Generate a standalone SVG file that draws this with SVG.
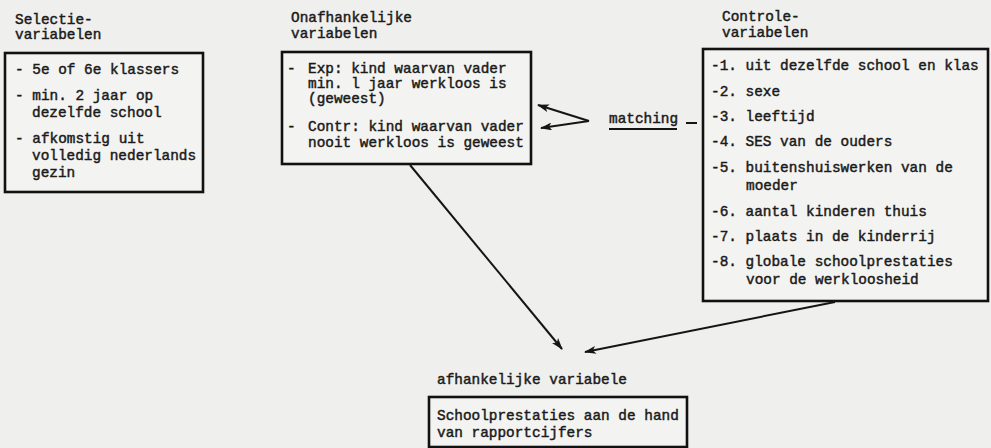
<svg xmlns="http://www.w3.org/2000/svg" width="991" height="448" viewBox="0 0 991 448">
<style>
text{font-family:"Liberation Mono","DejaVu Sans Mono",monospace;font-size:14.4px;fill:#1a1a1a;stroke:#1a1a1a;stroke-width:0.45}
.box{fill:#f3f3f1;stroke:#111;stroke-width:2.6}
.con{stroke:#151515;stroke-width:2;fill:none}
</style>
<defs>
<marker id="ah" viewBox="0 0 12 8" refX="11" refY="4" markerWidth="12" markerHeight="8" markerUnits="userSpaceOnUse" orient="auto">
<path d="M0,0 L12,4 L0,8 L3,4 Z" fill="#151515"/>
</marker>
</defs>
<rect width="991" height="448" fill="#efefed"/>

<g id="selectie">
<text x="15" y="24">Selectie-</text>
<text x="15" y="39">variabelen</text>
<rect class="box" x="5" y="53" width="198" height="139"/>
<text x="15" y="74">- 5e of 6e klassers</text>
<text x="15" y="100">- min. 2 jaar op</text>
<text x="32" y="117">dezelfde school</text>
<text x="15" y="143">- afkomstig uit</text>
<text x="32" y="160">volledig nederlands</text>
<text x="32" y="177">gezin</text>
</g>

<g id="onafhankelijk">
<text x="291" y="22">Onafhankelijke</text>
<text x="291" y="38">variabelen</text>
<rect class="box" x="282" y="52" width="249" height="112"/>
<text x="287" y="73">- <tspan x="308">Exp: kind waarvan vader</tspan></text>
<text x="308" y="88">min. l jaar werkloos is</text>
<text x="308" y="103">(geweest)</text>
<text x="287" y="131">- <tspan x="308">Contr: kind waarvan vader</tspan></text>
<text x="308" y="147">nooit werkloos is geweest</text>
</g>

<g id="controle">
<text x="722" y="21">Controle-</text>
<text x="722" y="37">variabelen</text>
<rect class="box" x="703" y="49" width="285" height="252"/>
<text x="711" y="70">-1. uit dezelfde school en klas</text>
<text x="711" y="96">-2. sexe</text>
<text x="711" y="121">-3. leeftijd</text>
<text x="711" y="146">-4. SES van de ouders</text>
<text x="711" y="172">-5. buitenshuiswerken van de</text>
<text x="746" y="190">moeder</text>
<text x="711" y="216">-6. aantal kinderen thuis</text>
<text x="711" y="241">-7. plaats in de kinderrij</text>
<text x="711" y="266">-8. globale schoolprestaties</text>
<text x="746" y="284">voor de werkloosheid</text>
</g>

<g id="matching">
<text x="609" y="123">matching</text>
<line class="con" x1="609" y1="129" x2="677" y2="129"/>
<line class="con" x1="686" y1="123" x2="697" y2="123"/>
</g>

<g id="afhankelijk">
<text x="437" y="384">afhankelijke variabele</text>
<rect class="box" x="429" y="397" width="258" height="50"/>
<text x="437" y="420">Schoolprestaties aan de hand</text>
<text x="437" y="437">van rapportcijfers</text>
</g>

<g id="connectors">
<line class="con" x1="589" y1="121" x2="538" y2="105" marker-end="url(#ah)"/>
<line class="con" x1="589" y1="121" x2="541" y2="128" marker-end="url(#ah)"/>
<line class="con" x1="410" y1="165" x2="562" y2="349" marker-end="url(#ah)"/>
<line class="con" x1="835" y1="302" x2="585" y2="352" marker-end="url(#ah)"/>
</g>
</svg>
